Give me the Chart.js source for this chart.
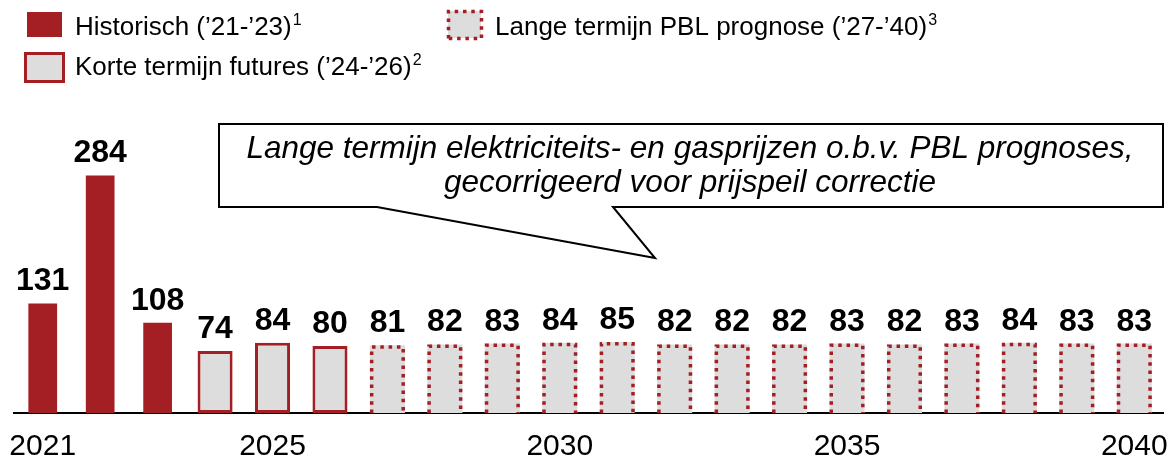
<!DOCTYPE html>
<html>
<head>
<meta charset="utf-8">
<script src="https://cdn.jsdelivr.net/npm/chart.js@4"></script>
<style>
  html, body { margin: 0; padding: 0; background: #fff; }
  #wrap { width: 1173px; height: 457px; position: relative; overflow: hidden; }
</style>
</head>
<body>
<div id="wrap"><canvas id="priceChart" width="1173" height="457"></canvas></div>
<script>
"use strict";

// years on the x axis, only some of them get a tick label
const years = ["2021", "2022", "2023", "2024", "2025", "2026", "2027", "2028", "2029", "2030",
  "2031", "2032", "2033", "2034", "2035", "2036", "2037", "2038", "2039", "2040"];
const tickYears = ["2021", "2025", "2030", "2035", "2040"];

// prices per period
const historic = [131, 284, 108];                 // '21-'23
const futures = [74, 84, 80];                     // '24-'26
const pblForecast = [81, 82, 83, 84, 85, 82, 82, 82, 83, 82, 83, 84, 83, 83]; // '27-'40

const RED = "#a31f24";
const GREY = "#dddddd";
const FONT = '"Liberation Sans", Arial, sans-serif';

// put each series in its own slots, the rest stays empty
function padSeries(values, start) {
  let out = [];
  for (let i = 0; i < years.length; i++) {
    let j = i - start;
    out.push(j >= 0 && j < values.length ? values[j] : null);
  }
  return out;
}

function dottedOutline(ctx, left, top, right, bottom, closed) {
  ctx.save();
  ctx.strokeStyle = RED;
  ctx.lineWidth = 3.5;
  ctx.setLineDash([3.5, 4.8]);
  ctx.beginPath();
  ctx.moveTo(left, bottom);
  ctx.lineTo(left, top);
  ctx.lineTo(right, top);
  ctx.lineTo(right, bottom);
  if (closed) ctx.closePath();
  ctx.stroke();
  ctx.restore();
}

// dotted border for the PBL bars (bar elements have no dash option)
const dottedBars = {
  id: "dottedBars",
  afterDatasetsDraw(chart) {
    const ctx = chart.ctx;
    const meta = chart.getDatasetMeta(2);
    meta.data.forEach(function (bar, i) {
      if (chart.data.datasets[2].data[i] === null) return;
      const p = bar.getProps(["x", "y", "base", "width"], true);
      const h = 1.75;
      dottedOutline(ctx, p.x - p.width / 2 + h, p.y + h, p.x + p.width / 2 - h, p.base, false);
    });
  }
};

// value above every bar
const valueLabels = {
  id: "valueLabels",
  afterDatasetsDraw(chart) {
    const ctx = chart.ctx;
    ctx.save();
    ctx.font = "bold 32px " + FONT;
    ctx.fillStyle = "#000";
    ctx.textAlign = "center";
    ctx.textBaseline = "alphabetic";
    chart.data.datasets.forEach(function (ds, d) {
      chart.getDatasetMeta(d).data.forEach(function (bar, i) {
        if (ds.data[i] === null) return;
        ctx.fillText(String(ds.data[i]), bar.x, bar.y - 13);
      });
    });
    ctx.restore();
  }
};

// legend at the top and the speech bubble note
const legendAndNote = {
  id: "legendAndNote",
  afterDraw(chart) {
    const ctx = chart.ctx;
    ctx.save();

    // legend boxes
    ctx.fillStyle = RED;
    ctx.fillRect(27, 12, 35, 25);

    ctx.fillStyle = GREY;
    ctx.fillRect(25.5, 53.5, 38, 28);
    ctx.strokeStyle = RED;
    ctx.lineWidth = 3;
    ctx.strokeRect(25.5, 53.5, 38, 28);

    ctx.fillStyle = GREY;
    ctx.fillRect(448, 11, 33, 27);
    dottedOutline(ctx, 448.5, 11.5, 481.5, 38.5, true);

    // legend texts with footnote numbers
    const items = [
      { x: 75, y: 35, text: "Historisch (\u201921-\u201923)", note: "1" },
      { x: 75, y: 75, text: "Korte termijn futures (\u201924-\u201926)", note: "2" },
      { x: 495, y: 35, text: "Lange termijn PBL prognose (\u201927-\u201940)", note: "3" }
    ];
    ctx.fillStyle = "#000";
    ctx.textBaseline = "alphabetic";
    ctx.textAlign = "left";
    items.forEach(function (it) {
      ctx.font = "26px " + FONT;
      ctx.fillText(it.text, it.x, it.y);
      const w = ctx.measureText(it.text).width;
      ctx.font = "16px " + FONT;
      ctx.fillText(it.note, it.x + w + 1, it.y - 10);
    });

    // speech bubble
    ctx.beginPath();
    ctx.moveTo(219, 124);
    ctx.lineTo(1163, 124);
    ctx.lineTo(1163, 207);
    ctx.lineTo(613, 207);
    ctx.lineTo(655, 258);
    ctx.lineTo(377, 207);
    ctx.lineTo(219, 207);
    ctx.closePath();
    ctx.fillStyle = "#fff";
    ctx.fill();
    ctx.strokeStyle = "#000";
    ctx.lineWidth = 2;
    ctx.stroke();

    ctx.fillStyle = "#000";
    ctx.font = "italic 31.5px " + FONT;
    ctx.textAlign = "center";
    ctx.fillText("Lange termijn elektriciteits- en gasprijzen o.b.v. PBL prognoses,", 690, 158);
    ctx.fillText("gecorrigeerd voor prijspeil correctie", 690, 192);

    ctx.restore();
  }
};

const data = {
  labels: years,
  datasets: [
    {
      label: "Historisch",
      data: padSeries(historic, 0),
      backgroundColor: RED,
      borderWidth: 0,
      barPercentage: 0.5,
      categoryPercentage: 1
    },
    {
      label: "Korte termijn futures",
      data: padSeries(futures, 3),
      backgroundColor: GREY,
      borderColor: RED,
      borderWidth: 3,
      borderSkipped: false,
      barPercentage: 0.61,
      categoryPercentage: 1
    },
    {
      label: "Lange termijn PBL prognose",
      data: padSeries(pblForecast, 6),
      backgroundColor: GREY,
      borderWidth: 0,
      barPercentage: 0.61,
      categoryPercentage: 1
    }
  ]
};

const config = {
  type: "bar",
  data: data,
  options: {
    responsive: false,
    animation: false,
    devicePixelRatio: 1,
    layout: { padding: { top: 162, left: 14, right: 10, bottom: 0 } },
    plugins: {
      legend: { display: false },
      tooltip: { enabled: false }
    },
    scales: {
      x: {
        stacked: true,
        offset: true,
        grid: { display: false, drawTicks: false, tickLength: 0 },
        border: { display: true, color: "#000", width: 2 },
        ticks: {
          autoSkip: false,
          maxRotation: 0,
          padding: 16,
          color: "#000",
          font: { family: FONT, size: 30 },
          callback: function (value) {
            const lab = this.getLabelForValue(value);
            return tickYears.includes(lab) ? lab : "";
          }
        },
        // fixed axis band under the bars, year labels may overhang the sides
        afterFit: function (scale) {
          scale.height = 44;
          scale.paddingLeft = 0;
          scale.paddingRight = 0;
        }
      },
      y: {
        stacked: true,
        display: false,
        min: 0,
        max: 300
      }
    }
  },
  plugins: [dottedBars, valueLabels, legendAndNote]
};

const canvasEl = document.getElementById("priceChart");
const priceChart = new Chart(canvasEl, config);
</script>
</body>
</html>
